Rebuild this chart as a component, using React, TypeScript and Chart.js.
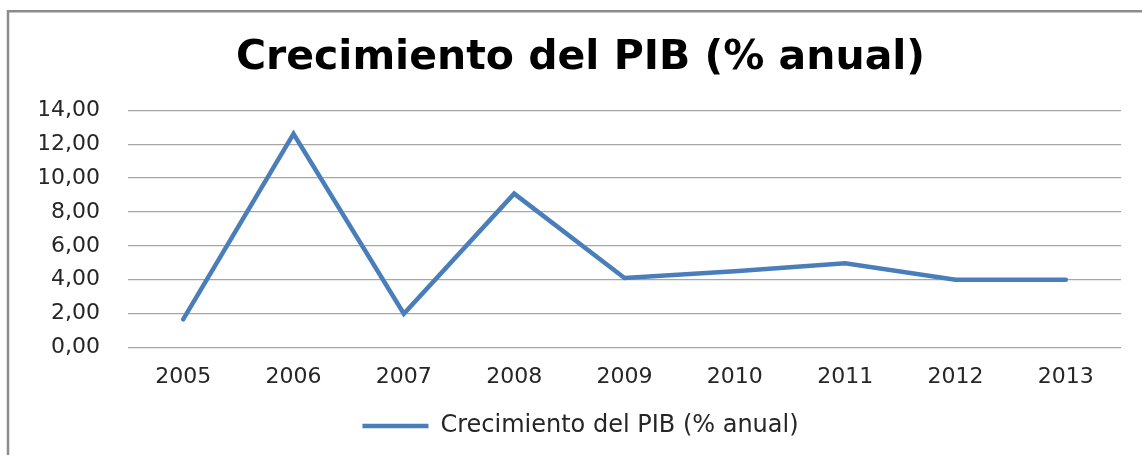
import React, { useEffect, useRef } from "react";
import { Chart, registerables } from "chart.js";

Chart.register(...registerables);

const years: string[] = ["2005", "2006", "2007", "2008", "2009", "2010", "2011", "2012", "2013"];
const growth: number[] = [1.67, 12.6, 2.0, 9.08, 4.1, 4.5, 4.97, 4.0, 4.0];
const chartTitle = "Crecimiento del PIB (% anual)";
const seriesLabel = "Crecimiento del PIB (% anual)";
const yMin = 0;
const yMax = 14;
const yStep = 2;

const FONT = "'DejaVu Sans', sans-serif";

const framePlugin = {
  id: "frame",
  beforeDraw(chart: any) {
    const { ctx, width, height } = chart;
    ctx.save();
    ctx.fillStyle = "#ffffff";
    ctx.fillRect(0, 0, width, height);
    ctx.strokeStyle = "#8c8c8c";
    ctx.lineWidth = 2.5;
    ctx.beginPath();
    ctx.moveTo(8, height + 5);
    ctx.lineTo(8, 11.3);
    ctx.lineTo(width + 5, 11.3);
    ctx.stroke();
    ctx.restore();
  },
};

export default function App() {
  const canvasRef = useRef<HTMLCanvasElement | null>(null);

  useEffect(() => {
    if (!canvasRef.current) return;
    const chart = new Chart(canvasRef.current, {
      type: "line",
      data: {
        labels: years,
        datasets: [
          {
            label: seriesLabel,
            data: growth,
            borderColor: "#4a7ebb",
            backgroundColor: "#4a7ebb",
            borderWidth: 4.5,
            pointRadius: 0,
            pointHoverRadius: 0,
            tension: 0,
            borderCapStyle: "round",
            borderJoinStyle: "miter",
            fill: false,
          },
        ],
      },
      options: {
        animation: false,
        responsive: false,
        devicePixelRatio: 1,
        layout: { padding: { left: 40, right: 21, top: 8, bottom: 7 } },
        plugins: {
          title: {
            display: true,
            text: chartTitle,
            color: "#000000",
            font: { family: FONT, size: 41, weight: "bold" },
            padding: { top: 26, bottom: 27 },
          },
          legend: {
            display: true,
            position: "bottom",
            labels: {
              color: "#262626",
              font: { family: FONT, size: 24 },
              usePointStyle: true,
              pointStyle: "line",
              pointStyleWidth: 66,
              padding: 8,
            },
          },
          tooltip: { enabled: false },
        },
        scales: {
          x: {
            offset: true,
            grid: { display: false, drawTicks: false },
            border: { display: false },
            ticks: {
              color: "#262626",
              font: { family: FONT, size: 22 },
              padding: 16,
            },
          },
          y: {
            min: yMin,
            max: yMax,
            grid: { color: "#a6a6a6", lineWidth: 1.2, drawTicks: false },
            border: { display: false },
            afterFit: (scale: any) => {
              scale.width = 88;
            },
            ticks: {
              stepSize: yStep,
              color: "#262626",
              font: { family: FONT, size: 22 },
              padding: 28,
              callback: (v: any) => Number(v).toFixed(2).replace(".", ","),
            },
          },
        },
      },
      plugins: [framePlugin],
    });
    return () => chart.destroy();
  }, []);

  return (
    <div style={{ position: "absolute", left: 0, top: 0, width: 1142, height: 455 }}>
      <canvas ref={canvasRef} width={1142} height={455} style={{ display: "block" }} />
    </div>
  );
}
